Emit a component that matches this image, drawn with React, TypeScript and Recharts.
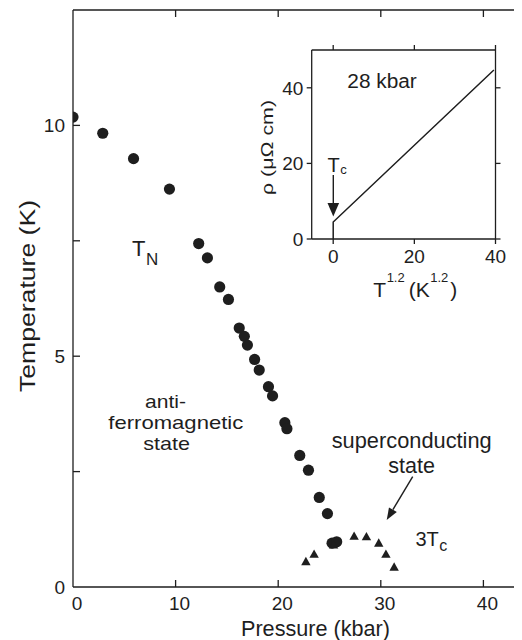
import React from 'react';
import { ScatterChart, Scatter, XAxis, YAxis, LineChart, Line } from 'recharts';

// ---- data ----
const pressureTN = [0, 2.9, 5.9, 9.4, 12.25, 13.1, 14.3, 15.15, 16.2, 16.7, 17.0, 17.7, 18.15, 19.05, 19.45, 20.65, 20.85, 22.1, 22.95, 24.0, 24.8, 25.25, 25.7];
const tempTN = [10.18, 9.83, 9.28, 8.62, 7.44, 7.13, 6.5, 6.23, 5.61, 5.43, 5.24, 4.93, 4.7, 4.34, 4.14, 3.56, 3.43, 2.85, 2.53, 1.94, 1.59, 0.95, 0.98];
const pressureTc = [22.7, 23.5, 25.4, 27.4, 28.6, 29.8, 30.5, 31.3];
const temp3Tc = [0.55, 0.71, 0.91, 1.1, 1.09, 0.95, 0.71, 0.43];

const mainXTicks = [0, 10, 20, 30, 40];
const mainTopTicks = [10, 20, 30, 40];
const mainYTicks = [0, 2.5, 5, 7.5, 10];
const mainYLabels = [0, 5, 10];

const insetT12 = [0, 0, 39.6];
const insetRho = [0, 4.5, 44.7];
const insetTicks = [0, 20, 40];

const tnData = pressureTN.map((p, i) => ({ p, t: tempTN[i] }));
const tcData = pressureTc.map((p, i) => ({ p, t: temp3Tc[i] }));
const insetData = insetT12.map((x, i) => ({ x, rho: insetRho[i] }));

const INK = '#1e1e1e';
const FONT = '"Liberation Sans", Arial, Helvetica, sans-serif';
const AX = { stroke: INK, strokeWidth: 1.3 };
const TICK_IN = 7;

const EmptyTick = () => <g />;

// bottom axis: tickSize 0, tickMargin 10 -> axis line at y - 10
const MainXTick = (props: any) => {
  const { x, y, payload } = props;
  const axisY = y - 10;
  return (
    <g>
      {payload.value !== 0 && (
        <line x1={x} y1={axisY} x2={x} y2={axisY - TICK_IN} stroke={INK} strokeWidth={1.3} />
      )}
      <text x={x + 4} y={axisY + 9.7} dy="0.71em" textAnchor="middle" fontSize={19} fill={INK} fontFamily={FONT}>
        {payload.value}
      </text>
    </g>
  );
};

// top axis: tickSize 0, tickMargin 0 -> axis line at y
const MainTopTick = (props: any) => {
  const { x, y } = props;
  return <line x1={x} y1={y} x2={x} y2={y + TICK_IN} stroke={INK} strokeWidth={1.3} />;
};

// left axis: tickSize 0, tickMargin 8 -> axis line at x + 8
const MainYTick = (props: any) => {
  const { x, y, payload } = props;
  const axisX = x + 8;
  return (
    <g>
      {payload.value !== 0 && (
        <line x1={axisX} y1={y} x2={axisX + TICK_IN} y2={y} stroke={INK} strokeWidth={1.3} />
      )}
      {mainYLabels.includes(payload.value) && (
        <text x={x} y={y} dy="0.355em" textAnchor="end" fontSize={19} fill={INK} fontFamily={FONT}>
          {payload.value}
        </text>
      )}
    </g>
  );
};

const InsetXTick = (props: any) => {
  const { x, y, payload } = props;
  return (
    <text x={x} y={y} dy="0.71em" textAnchor="middle" fontSize={19} fill={INK} fontFamily={FONT}>
      {payload.value}
    </text>
  );
};

const InsetYTick = (props: any) => {
  const { x, y, payload } = props;
  return (
    <text x={x} y={y} dy="0.355em" textAnchor="end" fontSize={19} fill={INK} fontFamily={FONT}>
      {payload.value}
    </text>
  );
};

const Dot = (props: any) => {
  const { cx, cy } = props;
  return <circle cx={cx} cy={cy} r={5.6} fill={INK} />;
};

const Tri = (props: any) => {
  const { cx, cy } = props;
  return <polygon points={`${cx},${cy - 4.8} ${cx - 4.7},${cy + 3.6} ${cx + 4.7},${cy + 3.6}`} fill={INK} />;
};

const T = (p: any) => <text fill={INK} fontFamily={FONT} {...p} />;

const Overlay = () => (
  <svg
    width={514}
    height={632}
    style={{ position: 'absolute', left: 0, top: 0, pointerEvents: 'none', overflow: 'visible' }}
  >
    <g transform="translate(-8,-8)">
      {/* main axis titles */}
      <T x={315.5} y={635.5} fontSize={21.5} textAnchor="middle" textLength={149} lengthAdjust="spacingAndGlyphs">
        Pressure (kbar)
      </T>
      <T
        x={0}
        y={0}
        fontSize={22}
        textAnchor="middle"
        textLength={192}
        lengthAdjust="spacingAndGlyphs"
        transform="translate(35,296) rotate(-90)"
      >
        Temperature (K)
      </T>

      {/* T_N */}
      <T x={132} y={256} fontSize={22}>
        T<tspan dx={0.5} dy={9} fontSize={17}>N</tspan>
      </T>

      {/* anti-ferromagnetic state */}
      <T fontSize={18.5}>
        <tspan x={145} y={407.5} textLength={41} lengthAdjust="spacingAndGlyphs">anti-</tspan>
        <tspan x={108.3} y={428.5} textLength={135} lengthAdjust="spacingAndGlyphs">ferromagnetic</tspan>
        <tspan x={143.3} y={449.5} textLength={46.7} lengthAdjust="spacingAndGlyphs">state</tspan>
      </T>

      {/* superconducting state */}
      <T fontSize={21.5}>
        <tspan x={331.7} y={448} textLength={160} lengthAdjust="spacingAndGlyphs">superconducting</tspan>
        <tspan x={388.3} y={473} textLength={46.7} lengthAdjust="spacingAndGlyphs">state</tspan>
      </T>
      <line x1={412.7} y1={476.7} x2={392.9} y2={509.7} stroke={INK} strokeWidth={1.4} />
      <polygon points="386.7,520 396.8,512.0 389.0,507.4" fill={INK} />

      {/* 3Tc */}
      <T x={415.5} y={546} fontSize={20}>
        3T<tspan dx={0.5} dy={5} fontSize={16}>c</tspan>
      </T>

      {/* inset texts */}
      <T x={347.3} y={88.3} fontSize={20} textLength={69.5} lengthAdjust="spacingAndGlyphs">28 kbar</T>
      <T
        x={0}
        y={0}
        fontSize={17}
        textAnchor="middle"
        textLength={95}
        lengthAdjust="spacingAndGlyphs"
        transform="translate(273,147.5) rotate(-90)"
      >
        ρ (μΩ cm)
      </T>
      <T x={327.5} y={171.5} fontSize={20}>
        T<tspan dx={0.5} dy={2.5} fontSize={13}>c</tspan>
      </T>
      <line x1={333.3} y1={175} x2={333.3} y2={205} stroke={INK} strokeWidth={1.4} />
      <polygon points="327.5,203 339.1,203 333.3,216.5" fill={INK} />

      {/* inset x title: T^1.2 (K^1.2) */}
      <T x={373.3} y={296.7} fontSize={21}>
        T<tspan dx={0.5} dy={-15} fontSize={13}>1.2</tspan>
        <tspan dx={4} dy={15} fontSize={21}>(K</tspan>
        <tspan dx={0.5} dy={-15} fontSize={13}>1.2</tspan>
        <tspan dx={2} dy={15} fontSize={21}>)</tspan>
      </T>
    </g>
  </svg>
);

export default function App() {
  return (
    <div style={{ position: 'relative', width: 514, height: 632, overflow: 'hidden', background: '#fff' }}>
      <ScatterChart width={540} height={632} margin={{ top: 0, right: 13.3, bottom: 23, left: 5 }}>
        <XAxis
          dataKey="p"
          type="number"
          domain={[0, 45]}
          allowDataOverflow
          ticks={mainXTicks}
          interval={0}
          height={30}
          tickSize={0}
          tickMargin={10}
          axisLine={AX}
          tickLine={false}
          tick={MainXTick}
        />
        <XAxis
          xAxisId="top"
          orientation="top"
          dataKey="p"
          type="number"
          domain={[0, 45]}
          allowDataOverflow
          ticks={mainTopTicks}
          interval={0}
          height={2}
          tickSize={0}
          tickMargin={0}
          axisLine={AX}
          tickLine={false}
          tick={MainTopTick}
        />
        <YAxis
          dataKey="t"
          type="number"
          domain={[0, 12.5]}
          allowDataOverflow
          ticks={mainYTicks}
          interval={0}
          width={60}
          tickSize={0}
          tickMargin={8}
          axisLine={AX}
          tickLine={false}
          tick={MainYTick}
        />
        <Scatter data={tnData} shape={Dot} isAnimationActive={false} />
        <Scatter data={tcData} shape={Tri} isAnimationActive={false} />
      </ScatterChart>

      <div style={{ position: 'absolute', left: 232, top: 32 }}>
        <LineChart width={280} height={240} data={insetData} margin={{ top: 5, right: 19.5, bottom: 11, left: 11.7 }}>
          <XAxis
            dataKey="x"
            type="number"
            domain={[-5.3, 40]}
            allowDataOverflow
            ticks={insetTicks}
            interval={0}
            height={30}
            tickSize={5}
            tickMargin={6}
            axisLine={AX}
            tickLine={AX}
            tick={InsetXTick}
          />
          <XAxis
            xAxisId="top"
            orientation="top"
            dataKey="x"
            type="number"
            domain={[-5.3, 40]}
            allowDataOverflow
            ticks={insetTicks}
            interval={0}
            height={5}
            tickSize={5}
            axisLine={AX}
            tickLine={AX}
            tick={EmptyTick}
          />
          <YAxis
            type="number"
            domain={[0, 50]}
            allowDataOverflow
            ticks={insetTicks}
            interval={0}
            width={60}
            tickSize={5}
            tickMargin={3.4}
            axisLine={AX}
            tickLine={AX}
            tick={InsetYTick}
          />
          <YAxis
            yAxisId="right"
            orientation="right"
            type="number"
            domain={[0, 50]}
            allowDataOverflow
            ticks={insetTicks}
            interval={0}
            width={5}
            tickSize={5}
            axisLine={AX}
            tickLine={AX}
            tick={EmptyTick}
          />
          <Line
            type="linear"
            dataKey="rho"
            stroke={INK}
            strokeWidth={1.5}
            dot={false}
            isAnimationActive={false}
          />
        </LineChart>
      </div>

      <Overlay />
    </div>
  );
}
